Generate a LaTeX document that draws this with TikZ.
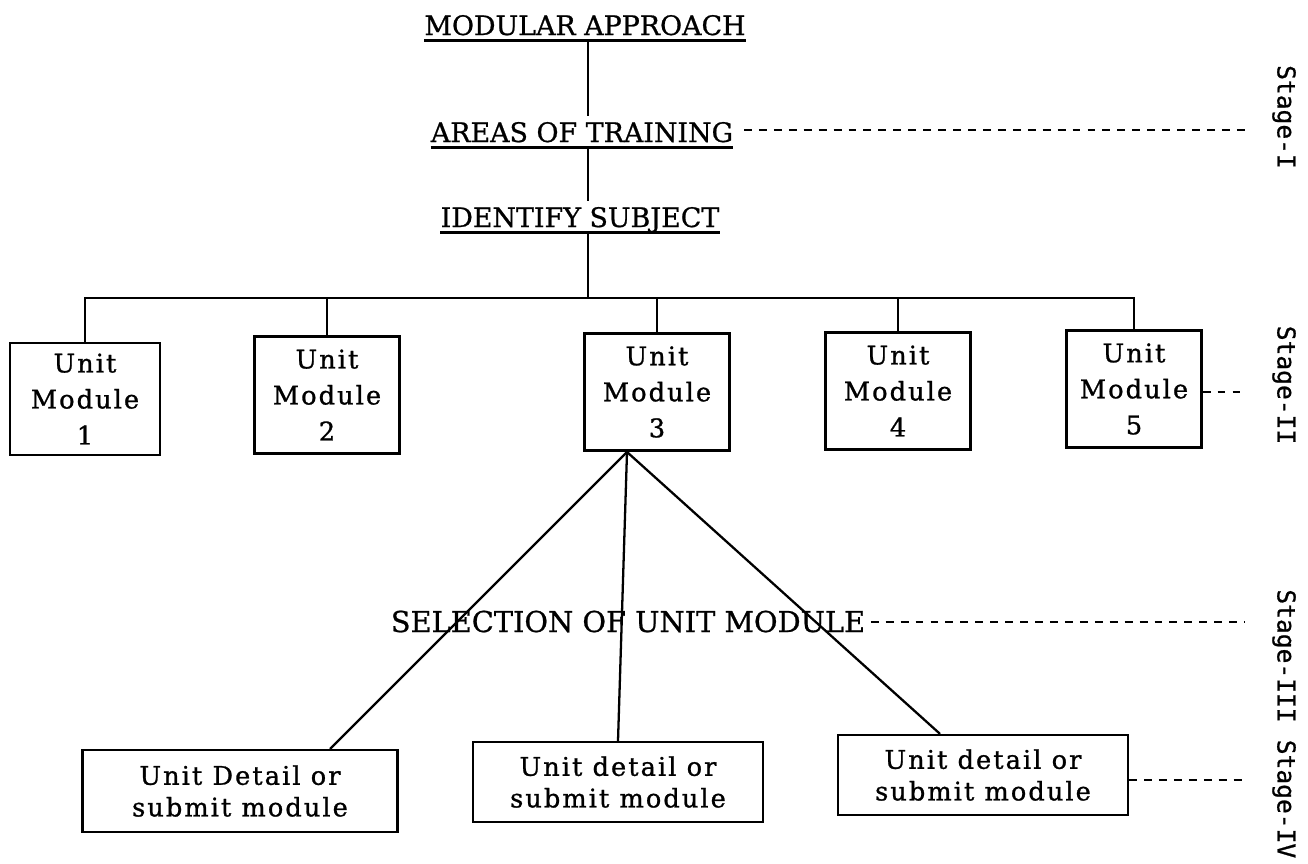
\documentclass[tikz,border=0pt]{standalone}
\usepackage{fontspec}
\setmainfont[FakeBold=0.8]{DejaVu Serif}
\newfontfamily\boxfont[LetterSpace=8,FakeBold=1]{DejaVu Serif}
\newfontfamily\stagefont[FakeBold=0.8]{DejaVu Sans Mono}
\usetikzlibrary{calc}
\begin{document}
\begin{tikzpicture}[x=0.02cm,y=-0.02cm]
	\tikzstyle{heading}=[inner xsep=0pt,inner ysep=3pt,text depth=0pt,anchor=base,font=\fontsize{15.3pt}{18pt}\selectfont]
	\tikzstyle{module}=[draw,line width=1.3pt,minimum width=2.9cm,minimum height=2.34cm,align=center,inner sep=2pt,font=\boxfont\fontsize{14.6pt}{20.5pt}\selectfont]
	\tikzstyle{detail}=[draw,line width=1.3pt,minimum width=5.8cm,minimum height=1.6cm,align=center,inner sep=2pt,font=\boxfont\fontsize{14.6pt}{18pt}\selectfont]
	\tikzstyle{stage}=[rotate=-90,inner sep=0pt,font=\stagefont\fontsize{14pt}{17pt}\selectfont]
	\tikzstyle{edge}=[draw,line width=1.3pt,-,black]
	\tikzstyle{stage line}=[draw,line width=1pt,dash pattern=on 4.5pt off 4pt,black]

	\useasboundingbox (0,0) rectangle (1308,863);

	\node[heading] (ma) at (585,35) {MODULAR APPROACH};
	\node[heading] (at) at (582,142) {AREAS OF TRAINING};
	\node[heading] (is) at (580,227) {IDENTIFY SUBJECT};

	\node[module,minimum width=3cm,minimum height=2.24cm] (m1) at (85,399) {Unit\\Module\\1};
	\node[module] (m2) at (327,395) {Unit\\Module\\2};
	\node[module] (m3) at (657,392) {Unit\\Module\\3};
	\node[module] (m4) at (898,391) {Unit\\Module\\4};
	\node[module,minimum width=2.7cm] (m5) at (1134,389) {Unit\\Module\\5};

	\node[font=\fontsize{16.4pt}{19pt}\selectfont,anchor=base,inner sep=1pt] (sel) at (628,632) {SELECTION OF UNIT MODULE};

	\node[detail,minimum width=6.3cm,minimum height=1.64cm] (d1) at (240,791) {Unit Detail or\\submit module};
	\node[detail] (d2) at (618,782) {Unit detail or\\submit module};
	\node[detail] (d3) at (983,775) {Unit detail or\\submit module};

	\node[stage] (s1) at (1284,117) {Stage-I};
	\node[stage] (s2) at (1284,385) {Stage-II};
	\node[stage] (s3) at (1284,656) {Stage-III};
	\node[stage] (s4) at (1284,799) {Stage-IV};

	\coordinate (bus) at (588,298);
	\coordinate (fan) at (627,452);
	\coordinate (t1) at (1245,130);
	\coordinate (t2) at (1245,392);
	\coordinate (t3) at (1245,622);
	\coordinate (t4) at (1245,780);

	% underlines and the trunk
	\draw[edge] (ma.south west) -- (ma.south east);
	\draw[edge] (at.south west) -- (at.south east);
	\draw[edge] (is.south west) -- (is.south east);
	\draw[edge] (ma.south -| bus) -- (at.north -| bus);
	\draw[edge] (at.south -| bus) -- (is.north -| bus);
	\draw[edge] (is.south -| bus) -- (bus);

	% unit modules
	\draw[edge] (m1.north) |- (bus) -| (m5.north);
	\draw[edge] (m2.north) -- (m2.north |- bus);
	\draw[edge] (m3.north) -- (m3.north |- bus);
	\draw[edge] (m4.north) -- (m4.north |- bus);

	% selection
	\draw[edge] (fan) -- ($(d1.north)+(90,0)$);
	\draw[edge] (fan) -- (d2.north);
	\draw[edge] (fan) -- ($(d3.north)+(-43,0)$);

	% stages
	\draw[stage line,shorten <=6pt] (t1 -| at.east) -- (t1);
	\draw[stage line] (t2 -| m5.east) -- (t2);
	\draw[stage line,shorten <=2pt] (t3 -| sel.east) -- (t3);
	\draw[stage line] (t4 -| d3.east) -- (t4);
\end{tikzpicture}
\end{document}
